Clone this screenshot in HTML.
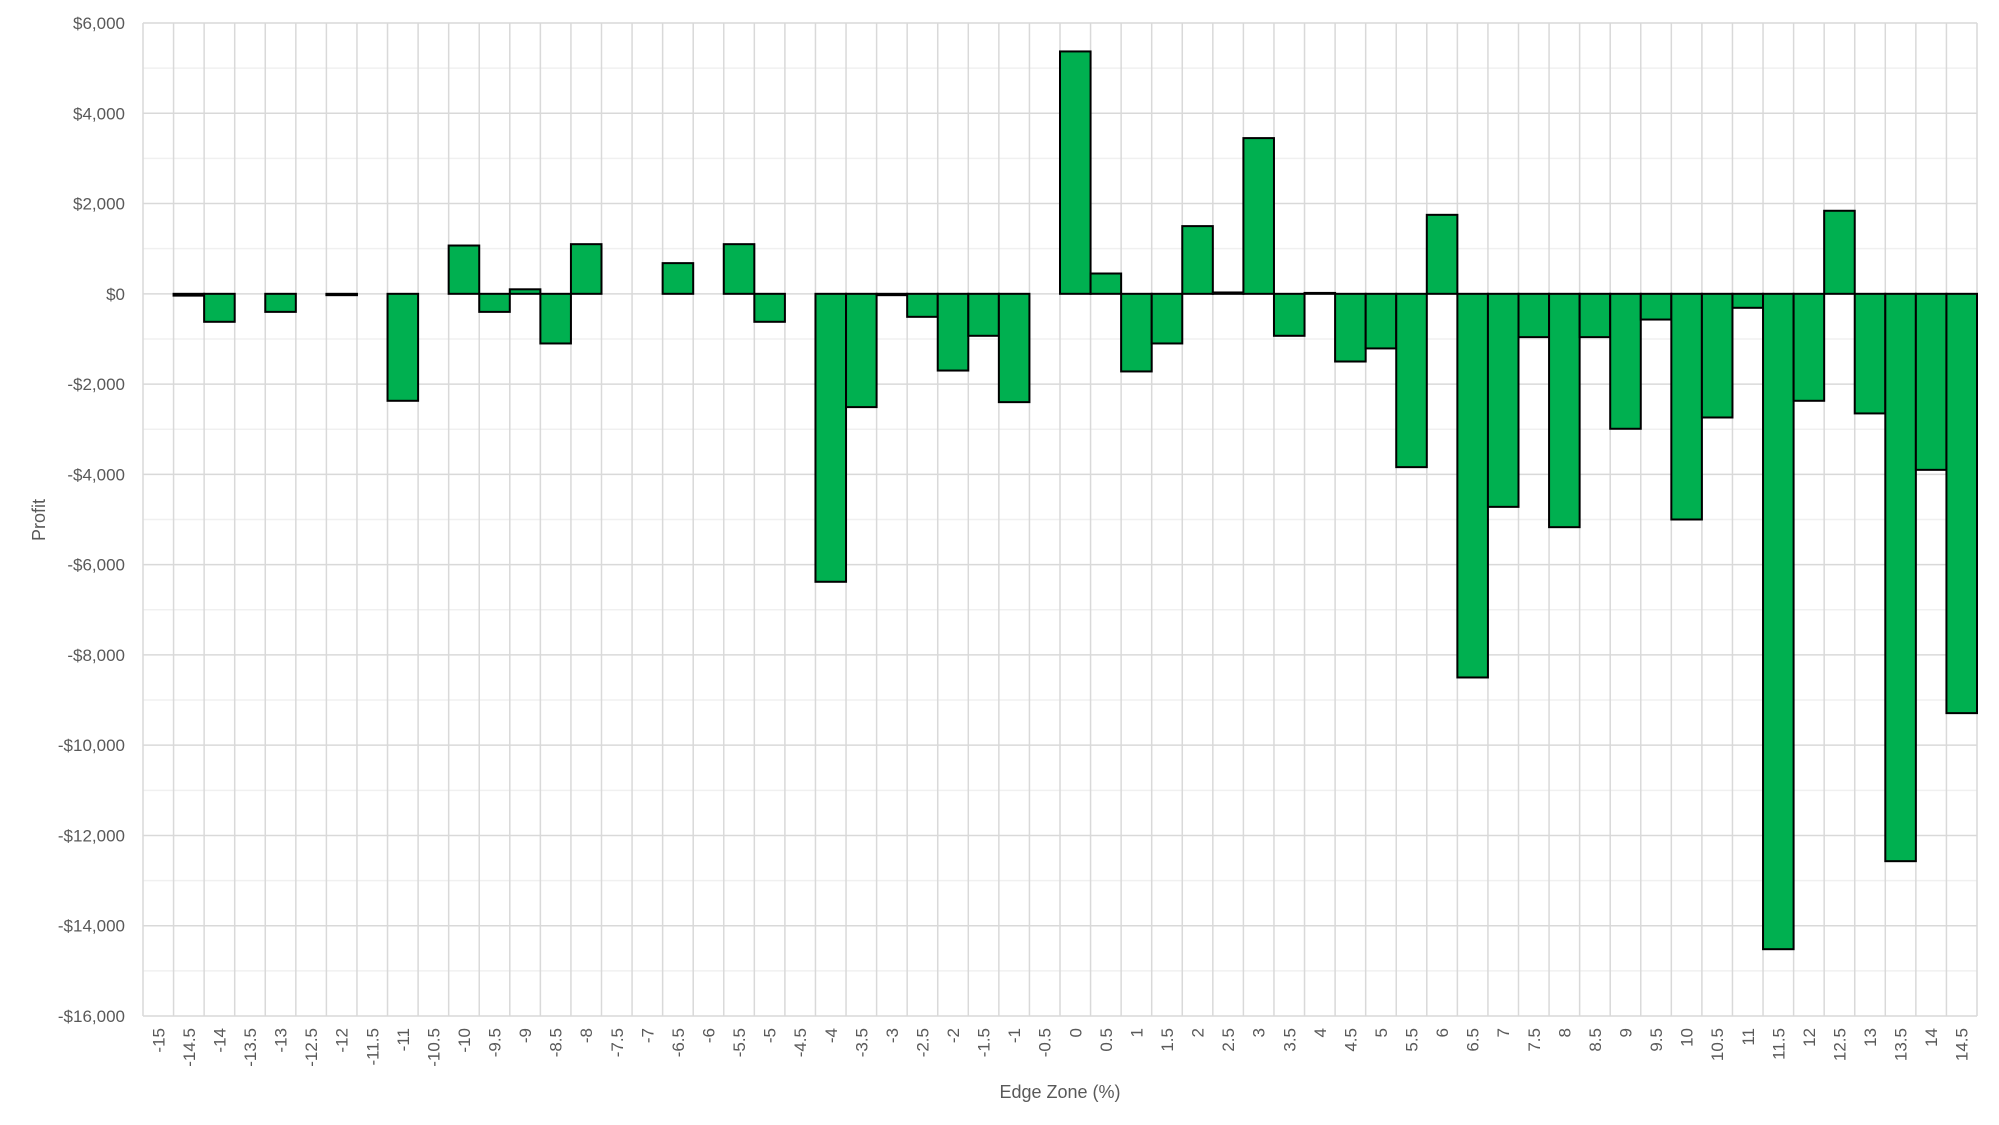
<!DOCTYPE html>
<html><head><meta charset="utf-8"><style>
html,body{margin:0;padding:0;background:#fff;}
svg{display:block;font-family:"Liberation Sans",sans-serif;}
</style></head><body>
<svg id="chart" width="1999" height="1125" viewBox="0 0 1999 1125">
<g id="grid"></g>
<g id="bars"></g>
<g id="ylab"></g>
<g id="xlab"></g>
<text x="45" y="520" transform="rotate(-90 45 520)" text-anchor="middle" font-size="18" fill="#595959">Profit</text>
<text x="1060" y="1098" text-anchor="middle" font-size="18" fill="#595959">Edge Zone (%)</text>
</svg>
<script>
const categories = [-15,-14.5,-14,-13.5,-13,-12.5,-12,-11.5,-11,-10.5,-10,-9.5,-9,-8.5,-8,-7.5,-7,-6.5,-6,-5.5,-5,-4.5,-4,-3.5,-3,-2.5,-2,-1.5,-1,-0.5,0,0.5,1,1.5,2,2.5,3,3.5,4,4.5,5,5.5,6,6.5,7,7.5,8,8.5,9,9.5,10,10.5,11,11.5,12,12.5,13,13.5,14,14.5];
const profits = [0,-40,-620,0,-400,0,-30,0,-2370,0,1070,-400,100,-1100,1100,0,0,680,0,1100,-620,0,-6380,-2510,-30,-510,-1700,-930,-2400,0,5370,450,-1720,-1100,1500,30,3450,-930,20,-1500,-1210,-3840,1750,-8500,-4720,-960,-5170,-960,-2990,-570,-5000,-2740,-310,-14520,-2370,1840,-2650,-12570,-3900,-9290];
const yTicks = [6000,4000,2000,0,-2000,-4000,-6000,-8000,-10000,-12000,-14000,-16000];
const yMin = -16000, yMax = 6000;
const L = 143, R = 1977, T = 23, B = 1016;
const NS = 'http://www.w3.org/2000/svg';
const cw = (R - L) / categories.length;
function y(v){ return T + (yMax - v) / (yMax - yMin) * (B - T); }
function x(i){ return L + i * cw; }
function mk(tag, attrs, parent){ const e = document.createElementNS(NS, tag); for (const k in attrs) e.setAttribute(k, attrs[k]); parent.appendChild(e); return e; }
const grid = document.getElementById('grid');
for (let v = yMin; v <= yMax; v += 1000) {
  const major = v % 2000 === 0;
  const ln = mk('line', {x1:L, x2:R, y1:y(v), y2:y(v), stroke: major ? '#d9d9d9' : '#f0f0f0', 'stroke-width': 1.5}, grid);
  
  
}
for (let i = 0; i <= categories.length; i++) {
  const ln = mk('line', {x1:x(i), x2:x(i), y1:T, y2:B, stroke:'#d9d9d9', 'stroke-width':1.5}, grid);
  
  
}
const bars = document.getElementById('bars');
profits.forEach((p, i) => {
  const y0 = y(0), y1 = y(p);
  const r = mk('rect', {x:x(i), y:Math.min(y0,y1), width:cw, height:Math.abs(y1-y0), fill:'#00b050', stroke:'#000', 'stroke-width':2}, bars);
  
  
});
const ylab = document.getElementById('ylab');
yTicks.forEach(v => {
  const t = mk('text', {x:125, y:y(v)+6, 'text-anchor':'end', 'font-size':17, fill:'#595959'}, ylab);
  t.textContent = (v < 0 ? '-$' : '$') + Math.abs(v).toLocaleString('en-US');
  
  
});
const xlab = document.getElementById('xlab');
categories.forEach((c, i) => {
  const cx = x(i) + cw/2 + 6, cy = 1028;
  const t = mk('text', {x:cx, y:cy, 'text-anchor':'end', 'font-size':17, fill:'#595959', transform:'rotate(-90 '+cx+' '+cy+')'}, xlab);
  t.textContent = String(c);
  
  
});
</script>
</body></html>
